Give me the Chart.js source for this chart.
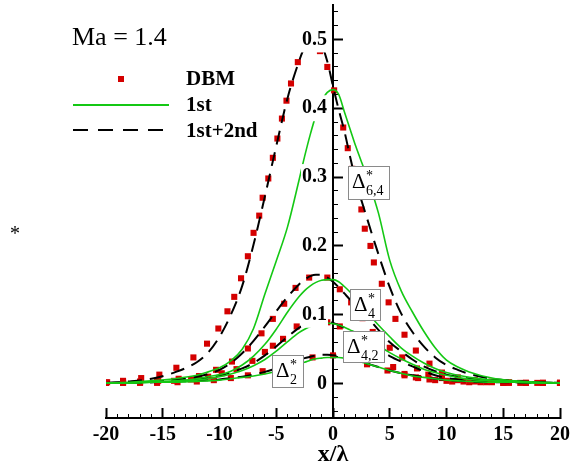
<!DOCTYPE html>
<html>
<head>
<meta charset="utf-8">
<script src="https://cdn.jsdelivr.net/npm/chart.js@4.4.1/dist/chart.umd.min.js"></script>
<style>
  html, body { margin: 0; padding: 0; background: #fff; }
</style>
</head>
<body>
<canvas id="profile_chart" width="572" height="470"></canvas>
<script>
// x positions shared by the model curves
var xLine = [-20,-18,-16,-14,-12,-11,-10,-9,-8,-7,-6,-5,-4,-3,-2.5,-2,-1.5,-1,-0.5,0,0.5,1,1.5,2,3,4,5,6,7,8,9,10,11,12,14,16,18,20];

// 1st+2nd (dashed)
var sec64 = [.001,.003,.007,.016,.031,.045,.068,.100,.142,.202,.272,.345,.415,.468,.489,.501,.503,.492,.468,.432,.398,.367,.330,.295,.240,.188,.140,.102,.075,.054,.038,.027,.020,.014,.007,.004,.002,.001];
var sec4  = [.001,.002,.003,.005,.010,.014,.020,.030,.044,.062,.083,.105,.126,.144,.151,.156,.158,.158,.154,.148,.140,.131,.122,.114,.097,.078,.060,.047,.035,.025,.018,.013,.010,.008,.005,.003,.002,.001];
var sec42 = [.001,.001,.002,.004,.007,.009,.012,.016,.022,.030,.041,.054,.068,.081,.086,.090,.092,.092,.091,.088,.085,.081,.076,.071,.061,.050,.040,.032,.025,.018,.012,.008,.006,.004,.003,.002,.001,.001];
var sec2  = [.001,.001,.002,.003,.004,.005,.006,.008,.010,.013,.017,.022,.028,.034,.037,.039,.041,.042,.042,.041,.040,.038,.036,.034,.029,.024,.019,.015,.012,.009,.007,.005,.004,.003,.002,.002,.001,.001];

// 1st (green)
var first64 = [.001,.002,.004,.007,.012,.017,.023,.033,.050,.080,.130,.178,.228,.295,.330,.362,.390,.410,.423,.427,.420,.395,.370,.345,.300,.248,.179,.135,.104,.076,.052,.034,.024,.017,.008,.004,.002,.001];
var first4  = [.001,.001,.002,.004,.007,.010,.013,.018,.027,.040,.057,.079,.104,.126,.135,.142,.147,.150,.151,.151,.148,.141,.133,.124,.104,.085,.068,.052,.040,.030,.022,.016,.012,.009,.005,.003,.002,.001];
var first42 = [.001,.001,.002,.003,.005,.007,.010,.014,.019,.026,.035,.047,.061,.074,.079,.083,.086,.087,.088,.087,.085,.082,.078,.074,.065,.055,.045,.036,.028,.021,.016,.012,.009,.006,.004,.002,.001,.001];
var first2  = [.001,.001,.002,.002,.003,.004,.005,.007,.009,.011,.014,.018,.023,.029,.031,.034,.036,.037,.038,.038,.038,.037,.035,.033,.029,.024,.019,.015,.011,.009,.007,.005,.004,.003,.002,.002,.001,.001];

// DBM (squares)
var dbm64X = [-19.9,-18.5,-16.9,-15.3,-13.8,-12.3,-11.1,-10.1,-9.3,-8.7,-8.1,-7.5,-7.0,-6.5,-6.2,-5.7,-5.3,-4.9,-4.5,-4.1,-3.7,-3.1,-2.3,-1.15,-0.5,0.1,0.9,1.3,1.7,2.1,2.5,2.8,3.3,3.6,4.3,4.9,5.5,6.3,7.3,8.5,9.6,11.0,12.5,14.0,15.5,17.0,18.5,20.0];
var dbm64Y = [.002,.004,.008,.013,.023,.038,.058,.080,.105,.126,.153,.185,.219,.244,.270,.298,.328,.356,.385,.411,.436,.467,.488,.483,.460,.426,.372,.342,.312,.282,.253,.225,.200,.176,.145,.118,.094,.071,.048,.029,.016,.009,.005,.003,.002,.001,.001,.001];
var dbm4X = [-20,-18.5,-17,-15.4,-13.6,-11.8,-10.3,-8.9,-7.5,-6.3,-5.3,-4.3,-3.3,-2.1,-0.5,0.6,1.6,2.6,3.5,5.0,6.1,7.4,8.4,9.6,11.0,12.5,14,15.5,17,18.5,20];
var dbm4Y = [.001,.002,.003,.004,.007,.011,.020,.032,.051,.073,.094,.116,.139,.154,.154,.137,.118,.095,.075,.052,.038,.022,.013,.008,.005,.003,.002,.001,.001,.001,.001];
var dbm42X = [-20,-18.5,-17,-15.5,-14,-12.5,-11,-9.8,-8.5,-7.1,-6.0,-5.3,-4.4,-3.2,-1.8,-0.5,0.6,1.8,3.0,4.2,5.3,6.3,7.3,8.5,10,11.5,13,15,17,18.5,20];
var dbm42Y = [.001,.001,.002,.003,.004,.006,.010,.015,.021,.033,.046,.055,.065,.083,.090,.089,.083,.072,.055,.038,.024,.014,.009,.006,.004,.003,.002,.001,.001,.001,.001];
var dbm2X = [-20,-18.5,-17,-15.5,-13.7,-12,-10.5,-9,-7.5,-6.2,-4.7,-3.3,-1.8,0,1.5,3.0,4.8,6.3,7.5,9,10.5,12,13.5,15,16.5,18,20];
var dbm2Y = [.001,.001,.001,.001,.002,.003,.005,.008,.012,.018,.026,.033,.038,.041,.037,.028,.019,.012,.008,.005,.003,.002,.002,.001,.001,.001,.001];

// axis ticks: minor every 1 / 0.02, labelled every 5 / 0.1
var xTicks = [-20,-19,-18,-17,-16,-15,-14,-13,-12,-11,-10,-9,-8,-7,-6,-5,-4,-3,-2,-1,0,1,2,3,4,5,6,7,8,9,10,11,12,13,14,15,16,17,18,19,20];
var yTicks = [-0.04,-0.02,0,0.02,0.04,0.06,0.08,0.1,0.12,0.14,0.16,0.18,0.2,0.22,0.24,0.26,0.28,0.3,0.32,0.34,0.36,0.38,0.4,0.42,0.44,0.46,0.48,0.5,0.52,0.54];
var legendNames = ["DBM", "1st", "1st+2nd"];
var machLabel = "Ma = 1.4";

var RED = "#d40000";
var GREEN = "rgb(20,200,20)";
var SERIF = '"Liberation Serif", "Times New Roman", serif';

function pts(xs, ys) {
    return xs.map(function(x, i) { return {x: x, y: ys[i]}; });
}
function xMajor(v) { return Math.round(v) % 5 === 0; }
function yMajor(v) { return Math.round(v * 50) % 5 === 0; }

function greenSet(ys) {
    return {data: pts(xLine, ys), showLine: true, borderColor: GREEN, borderWidth: 1.6,
        pointRadius: 0, cubicInterpolationMode: 'monotone', fill: false};
}
function dashSet(ys) {
    return {data: pts(xLine, ys), showLine: true, borderColor: '#000', borderWidth: 2,
        borderDash: [14, 8], pointRadius: 0, cubicInterpolationMode: 'monotone', fill: false};
}
function dbmSet(xs, ys) {
    return {data: pts(xs, ys), showLine: false, pointStyle: 'rect', pointRadius: 4.3,
        pointBackgroundColor: RED, pointBorderWidth: 0, borderColor: RED};
}

// boxed curve tags, anchored in data units (top-left corner), size in px
var tags = [
    {sub: "6,4", x: 1.32, y: 0.3155, w: 41, h: 33},
    {sub: "4",   x: 1.50, y: 0.138,  w: 30, h: 31},
    {sub: "4,2", x: 0.88, y: 0.077,  w: 41, h: 31},
    {sub: "2",   x: -5.38, y: 0.042, w: 31, h: 32}
];

var decor = {
    id: 'decor',
    afterDatasetsDraw: function(chart) {
        var ctx = chart.ctx, xs = chart.scales.x, ys = chart.scales.y;
        ctx.save();
        tags.forEach(function(t) {
            var l = Math.round(xs.getPixelForValue(t.x)) + 0.5;
            var tp = Math.round(ys.getPixelForValue(t.y)) + 0.5;
            ctx.fillStyle = '#fff';
            ctx.fillRect(l, tp, t.w, t.h);
            ctx.strokeStyle = '#8a8a8a';
            ctx.lineWidth = 1;
            ctx.strokeRect(l, tp, t.w, t.h);
            ctx.fillStyle = '#000';
            ctx.textBaseline = 'alphabetic';
            ctx.textAlign = 'left';
            ctx.font = '21px ' + SERIF;
            ctx.fillText('\u0394', l + 3.5, tp + 21);
            ctx.font = '14px ' + SERIF;
            ctx.fillText('*', l + 17.5, tp + 13);
            ctx.fillText(t.sub, l + 17.5, tp + 28);
        });

        ctx.textAlign = 'left';
        ctx.textBaseline = 'alphabetic';
        ctx.fillStyle = '#000';
        ctx.font = '26px ' + SERIF;
        ctx.fillText(machLabel, 72, 45);
        ctx.font = '20px ' + SERIF;
        ctx.fillText('*', 10, 240);

        ctx.fillStyle = RED;
        ctx.fillRect(118, 76, 6, 6);
        ctx.strokeStyle = GREEN;
        ctx.lineWidth = 2;
        ctx.beginPath(); ctx.moveTo(73, 105); ctx.lineTo(169, 105); ctx.stroke();
        ctx.strokeStyle = '#000';
        ctx.setLineDash([15, 10]);
        ctx.beginPath(); ctx.moveTo(73, 130); ctx.lineTo(166, 130); ctx.stroke();
        ctx.setLineDash([]);
        ctx.fillStyle = '#000';
        ctx.font = 'bold 21px ' + SERIF;
        ctx.fillText(legendNames[0], 186, 85);
        ctx.fillText(legendNames[1], 186, 111);
        ctx.fillText(legendNames[2], 186, 137);
        ctx.restore();
    }
};

var datasets = [
    greenSet(first64), greenSet(first4), greenSet(first42), greenSet(first2),
    dashSet(sec64), dashSet(sec4), dashSet(sec42), dashSet(sec2),
    dbmSet(dbm64X, dbm64Y), dbmSet(dbm4X, dbm4Y), dbmSet(dbm42X, dbm42Y), dbmSet(dbm2X, dbm2Y)
];

var chart = new Chart(document.getElementById('profile_chart'), {
    type: 'scatter',
    data: {datasets: datasets},
    plugins: [decor],
    options: {
        responsive: false,
        animation: false,
        events: [],
        layout: {padding: {left: 106, right: 12, top: 5, bottom: 0}},
        plugins: {legend: {display: false}, tooltip: {enabled: false}},
        scales: {
            x: {
                type: 'linear', position: 'bottom', min: -20, max: 20,
                // ticks point into the plot: negative length, minor ones cut short by a dash
                grid: {
                    display: true, drawOnChartArea: false, drawTicks: true, tickLength: -10,
                    tickColor: '#000',
                    tickWidth: function(c) { return c.tick && xMajor(c.tick.value) ? 2 : 1; },
                    tickBorderDash: function(c) { return c.tick && xMajor(c.tick.value) ? [] : [5, 100]; }
                },
                border: {display: true, color: '#000', width: 2},
                afterBuildTicks: function(s) { s.ticks = xTicks.map(function(v) { return {value: v}; }); },
                afterFit: function(s) { s.height = 52; s.paddingLeft = 0; s.paddingRight = 0; },
                ticks: {
                    autoSkip: false, maxRotation: 0, padding: 15, color: '#000',
                    font: {family: SERIF, size: 20, weight: 'bold'},
                    callback: function(v) { return xMajor(v) ? String(v) : ''; }
                },
                title: {display: true, text: 'x/\u03bb', color: '#000', padding: {top: 0, bottom: 1},
                    font: {family: SERIF, size: 24, weight: 'bold'}}
            },
            y: {
                type: 'linear', position: 'center', min: -0.05, max: 0.55,
                grid: {
                    display: true, drawOnChartArea: false, drawTicks: true, tickLength: -11,
                    tickColor: '#000',
                    tickWidth: function(c) { return c.tick && yMajor(c.tick.value) ? 2 : 1; },
                    tickBorderDash: function(c) { return c.tick && yMajor(c.tick.value) ? [] : [6, 100]; }
                },
                border: {display: true, color: '#000', width: 2},
                afterBuildTicks: function(s) { s.ticks = yTicks.map(function(v) { return {value: v}; }); },
                afterFit: function(s) { s.paddingTop = 0; s.paddingBottom = 0; },
                ticks: {
                    z: 1, padding: 17, color: '#000', autoSkip: false,
                    showLabelBackdrop: true, backdropPadding: 1,
                    backdropColor: function(c) {
                        return c.tick && yMajor(c.tick.value) && c.tick.value >= 0 ? '#fff' : 'rgba(0,0,0,0)';
                    },
                    font: {family: SERIF, size: 20, weight: 'bold'},
                    callback: function(v) {
                        if (!yMajor(v) || v < 0) return '';
                        return Math.abs(v) < 1e-9 ? '0' : v.toFixed(1);
                    }
                }
            }
        }
    }
});
</script>
</body>
</html>
